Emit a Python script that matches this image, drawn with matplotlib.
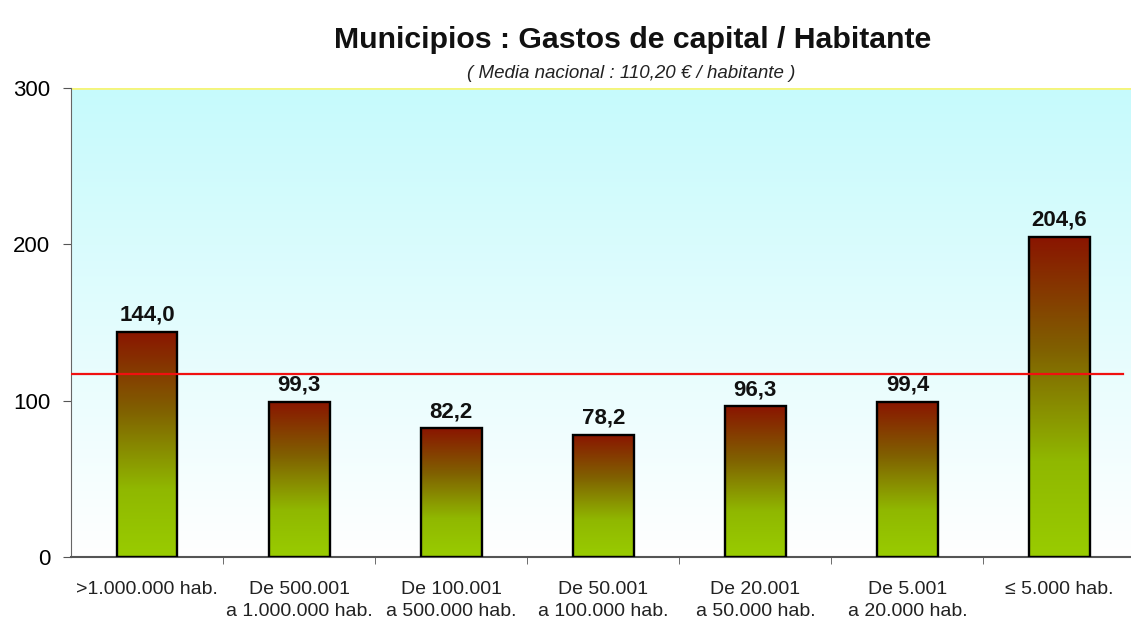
import matplotlib

matplotlib.use("Agg")
import matplotlib.pyplot as plt
import numpy as np
from matplotlib.colors import LinearSegmentedColormap

plt.rcParams["font.family"] = ["Liberation Sans", "DejaVu Sans"]

CATEGORIES = [
    ">1.000.000 hab.",
    "De 500.001\na 1.000.000 hab.",
    "De 100.001\na 500.000 hab.",
    "De 50.001\na 100.000 hab.",
    "De 20.001\na 50.000 hab.",
    "De 5.001\na 20.000 hab.",
    "\u2264 5.000 hab.",
]
VALUES = [144.0, 99.3, 82.2, 78.2, 96.3, 99.4, 204.6]
LABELS = ["144,0", "99,3", "82,2", "78,2", "96,3", "99,4", "204,6"]
MEDIA_LINE = 117.0
Y_TICKS = [0, 100, 200, 300]

TITLE = "Municipios : Gastos de capital / Habitante"
SUBTITLE = "( Media nacional : 110,20 \u20ac / habitante )"

W, H = 1131, 628
fig = plt.figure(figsize=(W / 100, H / 100), dpi=100)
ax = fig.add_axes([71 / W, 1 - 557 / H, (1131 - 71) / W, (557 - 88) / H])

xmin, xmax = -0.5, 6.47
ax.set_xlim(xmin, xmax)
ax.set_ylim(0, 300)

# background gradient: light cyan at top -> white at bottom
bg = LinearSegmentedColormap.from_list("bg", ["#ffffff", "#c6fafc"])
grad = np.linspace(0, 1, 256).reshape(-1, 1)
ax.imshow(grad, cmap=bg, aspect="auto", extent=(xmin, xmax, 0, 300),
          origin="lower", zorder=0)
ax.axhline(300, color="#f5f57a", lw=2, zorder=1)

# bars with vertical gradient (green at bottom -> dark red at top)
bar_cmap = LinearSegmentedColormap.from_list(
    "bar", [(0, "#99cc00"), (0.3, "#90b800"), (0.65, "#806000"), (1, "#8a1500")])
width = 0.4
x = np.arange(len(VALUES))
for xi, v, lab in zip(x, VALUES, LABELS):
    ax.imshow(grad, cmap=bar_cmap, aspect="auto",
              extent=(xi - width / 2, xi + width / 2, 0, v), origin="lower", zorder=2)
    ax.bar(xi, v, width=width, facecolor="none", edgecolor="black", lw=1.7, zorder=3)
    ax.text(xi, v + 4, lab, ha="center", va="bottom", fontsize=16,
            fontweight="bold", color="#111111", zorder=4)

ax.plot([xmin, 6.42], [MEDIA_LINE, MEDIA_LINE], color="#f01010", lw=1.6, zorder=3)

ax.set_yticks(Y_TICKS)
ax.set_yticklabels([str(t) for t in Y_TICKS], fontsize=16)
ax.set_xticks(x)
ax.set_xticklabels(CATEGORIES, fontsize=14, color="#222222", linespacing=1.45)
ax.set_xticks(np.arange(0.5, 6.5, 1), minor=True)
ax.tick_params(axis="x", which="major", length=0, pad=17)
ax.tick_params(axis="x", which="minor", length=5, color="#555555")
ax.tick_params(axis="y", length=6, color="#555555", pad=9)

for side in ("top", "right"):
    ax.spines[side].set_visible(False)
ax.spines["left"].set_color("#666666")
ax.spines["bottom"].set_color("#555555")
ax.spines["bottom"].set_linewidth(1.5)

fig.text(633 / W, 1 - 40 / H, TITLE, ha="center", va="center",
         fontsize=21.8, fontweight="bold", color="#111111")
fig.text(631 / W, 1 - 73 / H, SUBTITLE, ha="center", va="center",
         fontsize=13.5, style="italic", color="#222222")

fig.savefig("out.png", dpi=100)
